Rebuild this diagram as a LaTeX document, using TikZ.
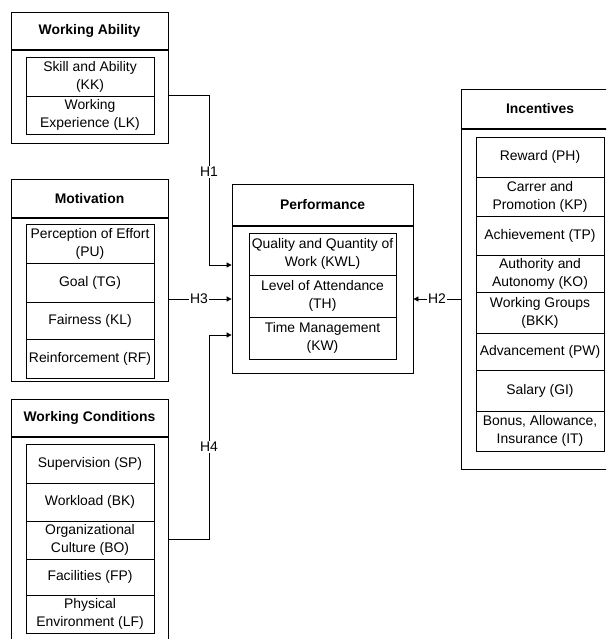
\documentclass[tikz,border=0pt]{standalone}
\usepackage{fontspec}
\setmainfont{Liberation Sans}
\usetikzlibrary{arrows.meta}
\begin{document}
\begin{tikzpicture}[x=1pt,y=-1pt,
  every node/.style={font=\fontsize{13.9}{18}\selectfont},
  outerbox/.style={draw, line width=0.8pt, fill=white, inner sep=0pt},
  hline/.style={line width=1.2pt},
  headtxt/.style={font=\fontsize{13.9}{18}\selectfont\bfseries, inner sep=0pt},
  cell/.style={draw, line width=0.8pt, fill=white, inner sep=0pt, align=center, minimum width=128pt},
  pcell/.style={cell, minimum width=147pt, minimum height=42pt},
  conn/.style={line width=0.8pt},
  arr/.style={conn, -{Triangle[length=5pt,width=5pt]}},
  lbl/.style={fill=white, inner sep=0.8pt}]
\useasboundingbox (0,0) rectangle (606,639);
\clip (0,0) rectangle (606,639);
\fill[white] (0,0) rectangle (606,639);

% Working Ability
\node[outerbox, minimum width=157pt, minimum height=131pt] (wa) at (89.5,77.5) {};
\draw[hline] (wa.west |- 0,50) -- (wa.east |- 0,50);
\node[headtxt] (wat) at (89.5,31) {Working Ability};
\node[cell, minimum height=39pt] (wa1) at (90,76.5) {Skill and Ability\\(KK)};
\node[cell, minimum height=38pt] (wa2) at (90,115) {Working\\Experience (LK)};

% Motivation
\node[outerbox, minimum width=157pt, minimum height=202pt] (mo) at (89.5,280) {};
\draw[hline] (mo.west |- 0,218) -- (mo.east |- 0,218);
\node[headtxt] (mot) at (89.5,198.5) {Motivation};
\node[cell, minimum height=39pt] (mo1) at (90,243.5) {Perception of Effort\\(PU)};
\node[cell, minimum height=39pt] (mo2) at (90,282.5) {Goal (TG)};
\node[cell, minimum height=37pt] (mo3) at (90,320.5) {Fairness (KL)};
\node[cell, minimum height=39pt] (mo4) at (90,358.5) {Reinforcement (RF)};

% Working Conditions
\node[outerbox, minimum width=157pt, minimum height=281pt] (wc) at (89.5,539.5) {};
\draw[hline] (wc.west |- 0,437) -- (wc.east |- 0,437);
\node[headtxt] (wct) at (89.5,418) {Working Conditions};
\node[cell, minimum height=39pt] (wc1) at (90,463.5) {Supervision (SP)};
\node[cell, minimum height=38pt] (wc2) at (90,502) {Workload (BK)};
\node[cell, minimum height=38pt] (wc3) at (90,540) {Organizational\\Culture (BO)};
\node[cell, minimum height=36pt] (wc4) at (90,577) {Facilities (FP)};
\node[cell, minimum height=38pt] (wc5) at (90,614) {Physical\\Environment (LF)};

% Performance
\node[outerbox, minimum width=181pt, minimum height=189pt] (pf) at (322.5,278.5) {};
\draw[hline] (pf.west |- 0,226) -- (pf.east |- 0,226);
\node[headtxt] (pft) at (322.5,205) {Performance};
\node[pcell] (pf1) at (322.5,254) {Quality and Quantity of\\Work (KWL)};
\node[pcell] (pf2) at (322.5,296) {Level of Attendance\\(TH)};
\node[pcell] (pf3) at (322.5,338) {Time Management\\(KW)};

% Incentives
\node[outerbox, minimum width=158pt, minimum height=380pt] (in) at (540,279) {};
\draw[hline] (in.west |- 0,129) -- (in.east |- 0,129);
\node[headtxt] (int) at (540,109) {Incentives};
\node[cell, minimum height=40pt] (in1) at (540,157) {Reward (PH)};
\node[cell, minimum height=39pt] (in2) at (540,196.5) {Carrer and\\Promotion (KP)};
\node[cell, minimum height=39pt] (in3) at (540,235.5) {Achievement (TP)};
\node[cell, minimum height=37pt] (in4) at (540,273.5) {Authority and\\Autonomy (KO)};
\node[cell, minimum height=41pt] (in5) at (540,312.5) {Working Groups\\(BKK)};
\node[cell, minimum height=37pt] (in6) at (540,351.5) {Advancement (PW)};
\node[cell, minimum height=41pt] (in7) at (540,390.5) {Salary (GI)};
\node[cell, minimum height=40pt] (in8) at (540,431) {Bonus, Allowance,\\Insurance (IT)};

% Connectors
\coordinate (b1) at (209,265);
\coordinate (b4) at (209,335);
\draw[arr] (wa.east |- wa2.north) -| (b1) -- (pf.west |- b1);
\node[lbl] (h1) at (209,172) {H1};
\draw[arr] (mo.east |- 0,299) -- (pf.west |- 0,299);
\node[lbl] (h3) at (199,299) {H3};
\draw[arr] (wc.east |- 0,539) -| (b4) -- (pf.west |- b4);
\node[lbl] (h4) at (209,447) {H4};
\draw[arr] (in.west |- 0,299) -- (pf.east |- 0,299);
\node[lbl] (h2) at (437,299) {H2};
\end{tikzpicture}
\end{document}
